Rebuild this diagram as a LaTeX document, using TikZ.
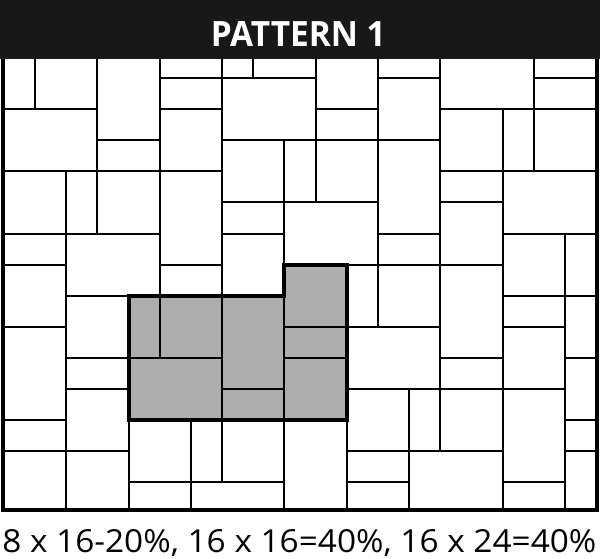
\documentclass[tikz,border=0pt]{standalone}
\usepackage{graphicx}
\usepackage{fontspec}
\setmainfont{Open Sans}
\definecolor{tilegrey}{HTML}{ADADAD}
\definecolor{barblack}{HTML}{181818}
\begin{document}
\begin{tikzpicture}[x=23.37pt,y=-23.325pt,
  tile/.style={draw=black,line width=1.5pt},
  greytile/.style={tile,fill=tilegrey},
  outline/.style={draw=black,line width=3pt,line join=miter},
  frame/.style={draw=black,line width=2.8pt,line join=miter}]
\useasboundingbox (-0.1284,-2.508) rectangle (19.127,15.466);
\fill[white] (-0.1284,-2.508) rectangle (19.127,15.466);
\begin{scope}
\clip (0,-0.63) rectangle (19,13.89);
% white tiles
\foreach \xa/\ya/\xb/\yb in {
 0/-0.8/1/1, 1/-0.8/3/1, 0/1/3/3, 3/-0.8/5/2, 3/2/5/3,
 5/-0.8/7/0, 5/0/7/1, 5/1/7/3, 7/-0.8/8/0, 8/-0.8/10/0,
 7/0/10/2, 10/-0.8/12/1, 10/1/12/2, 12/-0.8/14/0, 12/0/14/2,
 14/-0.8/17/1, 17/-0.8/19/0, 17/0/19/1, 14/1/16/3, 16/1/17/3, 17/1/19/3,
 0/3/2/5, 2/3/3/5, 3/3/5/5, 5/3/7/6, 5/6/7/7,
 7/2/9/4, 7/4/9/5, 7/5/9/7, 9/2/10/4, 10/2/12/4, 9/4/12/6,
 12/2/14/5, 12/5/14/6, 11/6/12/8, 12/6/14/8,
 14/3/16/4, 14/4/16/6, 14/6/16/9, 14/9/16/10,
 16/3/19/5, 16/5/18/7, 16/7/18/8, 18/5/19/7, 18/7/19/9,
 16/8/18/10, 18/9/19/11, 18/11/19/12, 18/12/19/14.2,
 16/10/18/13, 16/13/18/14.2,
 11/8/14/10, 11/10/13/12, 11/12/13/13, 11/13/13/14.2,
 13/10/14/12, 14/10/16/12, 13/12/16/14.2,
 0/5/2/6, 0/6/2/8, 0/8/2/11, 0/11/2/12, 0/12/2/14.2,
 2/5/5/7, 2/7/4/9, 2/9/4/10, 2/10/4/12, 2/12/4/14.2,
 4/11/6/13, 4/13/6/14.2, 6/11/7/13, 7/11/9/13, 6/13/9/14.2, 9/11/11/14.2}
  \draw[tile] (\xa,\ya) rectangle (\xb,\yb);
% grey tiles
\foreach \xa/\ya/\xb/\yb in {
 4/7/5/9, 5/7/7/9, 4/9/7/11, 7/7/9/10, 7/10/9/11,
 9/6/11/8, 9/8/11/9, 9/9/11/11}
  \draw[greytile] (\xa,\ya) rectangle (\xb,\yb);
\draw[outline] (4,7) -- (9,7) -- (9,6) -- (11,6) -- (11,11) -- (4,11) -- cycle;
\end{scope}
% outer frame
\draw[frame] (-0.026,-0.7) -- (-0.026,13.89) -- (19.05,13.89) -- (19.05,-0.7);
% header bar
\fill[barblack] (-0.1284,-2.508) rectangle (19.127,-0.627);
\node[anchor=base,inner sep=0,text=white] (title) at (9.445,-1.006)
  {\resizebox{131.25pt}{18.75pt}{\bfseries PATTERN 1}};
\node[anchor=base west,inner sep=0,text=black] (legend) at (-0.0642,15.273)
  {\resizebox{445.5pt}{17.25pt}{8 x 16-20\%, 16 x 16=40\%, 16 x 24=40\%}};
\end{tikzpicture}
\end{document}
